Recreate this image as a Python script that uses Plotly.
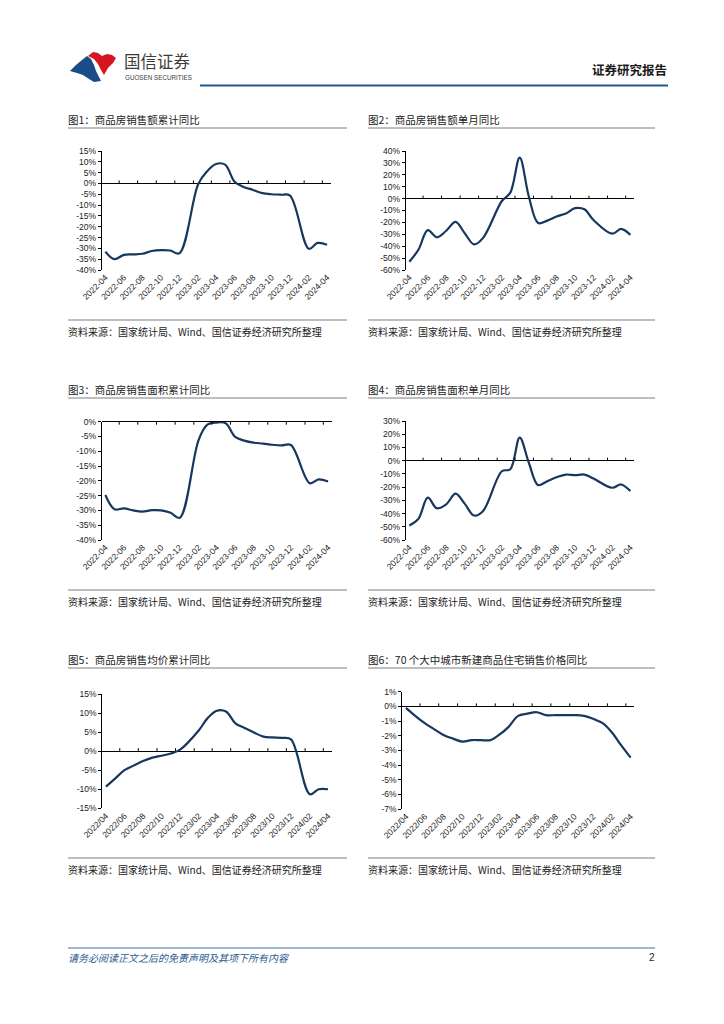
import pandas as pd
import plotly.graph_objects as go

# page is 724x1024; the browser body has an 8px margin, so the figure is 716x1016 placed at (8, 8)
PAGE_OFF = 8
W, H = 724 - PAGE_OFF, 1024 - PAGE_OFF

# ---------------- data ----------------
# NBS series (no separate January figure)
months_nbs = ["2022-04", "2022-05", "2022-06", "2022-07", "2022-08", "2022-09", "2022-10",
              "2022-11", "2022-12", "2023-02", "2023-03", "2023-04", "2023-05", "2023-06",
              "2023-07", "2023-08", "2023-09", "2023-10", "2023-11", "2023-12", "2024-02",
              "2024-03", "2024-04"]
# 70-city price index (monthly incl. January)
months_70 = ["2022-04", "2022-05", "2022-06", "2022-07", "2022-08", "2022-09", "2022-10",
             "2022-11", "2022-12", "2023-01", "2023-02", "2023-03", "2023-04", "2023-05",
             "2023-06", "2023-07", "2023-08", "2023-09", "2023-10", "2023-11", "2023-12",
             "2024-01", "2024-02", "2024-03", "2024-04"]
label_months = ["2022-04", "2022-06", "2022-08", "2022-10", "2022-12", "2023-02", "2023-04",
                "2023-06", "2023-08", "2023-10", "2023-12", "2024-02", "2024-04"]

sales_amount_cum = [-31.5, -35.0, -33.0, -32.8, -32.5, -31.2, -30.8, -31.0, -32.3, -0.4, 5.4, 9.0,
                    8.7, 0.8, -1.6, -3.0, -4.5, -5.0, -5.2, -5.6, -30.2, -27.5, -28.3]
sales_amount_mon = [-53.0, -43.0, -26.5, -32.5, -27.0, -19.5, -29.0, -38.5, -33.0, -2.0, 5.0, 34.5,
                    2.0, -20.5, -18.5, -15.0, -12.5, -8.0, -9.0, -18.0, -29.5, -25.5, -30.5]
sales_area_cum = [-24.8, -29.6, -29.3, -30.0, -30.4, -29.9, -30.0, -30.8, -32.5, -6.2, -1.1, -0.3,
                  -0.5, -5.1, -6.4, -7.1, -7.4, -7.8, -8.0, -7.9, -20.8, -19.5, -20.2]
sales_area_mon = [-49.0, -44.0, -28.0, -36.0, -33.0, -25.0, -32.5, -41.5, -38.0, -8.0, -6.5, 17.5,
                  -1.5, -18.5, -15.5, -12.5, -10.5, -11.0, -10.5, -13.5, -20.5, -18.0, -23.0]
avg_price_cum = [-9.3, -7.2, -5.0, -3.8, -2.6, -1.7, -1.2, -0.6, 0.4, 5.5, 8.6, 10.6, 10.4, 7.3,
                 6.1, 4.9, 3.8, 3.6, 3.5, 3.1, -11.3, -10.0, -10.0]
price70_yoy = [-0.1, -0.65, -1.15, -1.55, -1.95, -2.2, -2.4, -2.3, -2.3, -2.3, -1.9, -1.4, -0.65,
               -0.5, -0.4, -0.6, -0.6, -0.6, -0.6, -0.65, -0.85, -1.15, -1.8, -2.65, -3.5]

titles = ["图1：商品房销售额累计同比", "图2：商品房销售额单月同比", "图3：商品房销售面积累计同比",
          "图4：商品房销售面积单月同比", "图5：商品房销售均价累计同比",
          "图6：70 个大中城市新建商品住宅销售价格同比"]
source_text = "资料来源：国家统计局、Wind、国信证券经济研究所整理"

# ---------------- style ----------------
CJK = "Noto Sans CJK SC"
NUM = "Liberation Sans"
LINE = "#17375e"


def fx(p):
    return (p - PAGE_OFF) / W


def fy(p):
    return 1 - (p - PAGE_OFF) / H


fig = go.Figure()

panels = [
    dict(x=months_nbs, y=sales_amount_cum, dx=(101.7, 330.7), dy=(151, 270), yr=(-40, 15), st=5, fmt="-"),
    dict(x=months_nbs, y=sales_amount_mon, dx=(405.7, 634.0), dy=(151, 270), yr=(-60, 40), st=10, fmt="-"),
    dict(x=months_nbs, y=sales_area_cum, dx=(101.7, 331.7), dy=(421.7, 540), yr=(-40, 0), st=5, fmt="-"),
    dict(x=months_nbs, y=sales_area_mon, dx=(405.7, 634.0), dy=(421, 540), yr=(-60, 30), st=10, fmt="-"),
    dict(x=months_nbs, y=avg_price_cum, dx=(102.3, 331.7), dy=(694, 808.3), yr=(-15, 15), st=5, fmt="/"),
    dict(x=months_70, y=price70_yoy, dx=(402.3, 634.3), dy=(691.7, 809), yr=(-7, 1), st=1, fmt="/"),
]

full_months = pd.date_range("2022-04-01", "2024-04-01", freq="MS")
tick_marks = [full_months[2 * k + 1] + (full_months[2 * k + 2] - full_months[2 * k + 1]) / 2 for k in range(12)]
x_start = pd.Timestamp("2022-04-01") - pd.Timedelta(days=12)
x_end = pd.Timestamp("2024-04-01") + pd.Timedelta(days=12)

layout_axes = {}
for i, p in enumerate(panels):
    n = "" if i == 0 else str(i + 1)
    fig.add_trace(go.Scatter(
        x=pd.to_datetime(p["x"]), y=p["y"], mode="lines",
        line=dict(color=LINE, width=2.2, shape="spline", smoothing=1.0),
        xaxis="x" + n, yaxis="y" + n, showlegend=False, hoverinfo="skip"))
    lo, hi = p["yr"]
    yt = list(range(lo, hi + 1, p["st"]))
    labels = [pd.Timestamp(m + "-01").strftime("%Y" + p["fmt"] + "%m") for m in label_months]
    layout_axes["xaxis" + n] = dict(
        domain=[fx(p["dx"][0]), fx(p["dx"][1])], anchor="y" + n, type="date",
        range=[x_start, x_end], tickvals=[m + "-01" for m in label_months], ticktext=labels,
        tickangle=-45, showline=False, ticks="", showgrid=False, zeroline=False,
        automargin=False,
        tickfont=dict(size=8.5, family=NUM, color="#222"), fixedrange=True)
    layout_axes["yaxis" + n] = dict(
        domain=[fy(p["dy"][1]), fy(p["dy"][0])], anchor="x" + n, range=[lo, hi],
        tickvals=yt, ticktext=[f"{v}%" for v in yt], showline=True, linecolor="black",
        linewidth=1, ticks="outside", ticklen=3, tickcolor="black", tickwidth=1,
        showgrid=False, zeroline=True, zerolinecolor="black", zerolinewidth=1,
        automargin=False,
        tickfont=dict(size=8.5, family=NUM, color="#222"), fixedrange=True)
    direction = -3 if hi == 0 else 3
    for t in tick_marks:
        fig.add_shape(type="line", xref="x" + n, yref="y" + n, x0=t, x1=t,
                      ysizemode="pixel", yanchor=0, y0=0, y1=direction,
                      line=dict(color="black", width=1))

fig.update_layout(**layout_axes)


def add_text(x, y, s, size, color="#222", xanchor="left", family=CJK):
    fig.add_annotation(x=fx(x), y=fy(y), xref="paper", yref="paper", text=s, showarrow=False,
                       xanchor=xanchor, yanchor="middle", borderpad=0,
                       font=dict(size=size, color=color, family=family))


def add_hline(x0, x1, y, color, width):
    fig.add_shape(type="line", xref="paper", yref="paper", x0=fx(x0), x1=fx(x1),
                  y0=fy(y), y1=fy(y), line=dict(color=color, width=width))


def add_poly(points, color):
    path = "M " + " L ".join(f"{fx(a):.5f},{fy(b):.5f}" for a, b in points) + " Z"
    fig.add_shape(type="path", xref="paper", yref="paper", path=path,
                  fillcolor=color, line=dict(width=0))


# ---------------- header ----------------
add_poly([(70, 71), (76, 65), (82, 60), (87, 56), (91, 59), (94, 65), (96, 71), (99, 77),
          (101, 81), (94, 82), (89, 79), (83, 75), (77, 73)], "#1a4c86")
add_poly([(88, 56), (93, 52), (98, 53), (102, 56), (107, 54), (112, 55), (116, 58), (113, 63),
          (108, 68), (104, 75), (101, 70), (98, 64), (94, 59)], "#d6161f")
add_text(123, 61, "国信证券", 16.5, "#3c3c3c")
add_text(124, 78, "GUOSEN SECURITIES", 6.3, "#3c3c3c", family=NUM)
add_text(668, 69, "<b>证券研究报告</b>", 12.5, "#1a1a1a", xanchor="right")
add_hline(200, 668, 85.5, "#1f5a8e", 2.2)

# ---------------- panel frames ----------------
rows = [(119, 128, 320, 331), (389, 398, 590, 601), (659, 668, 858, 869)]
cols = [(68, 347), (368, 655)]
k = 0
for (ty, tl, sl, sy) in rows:
    for (c0, c1) in cols:
        add_text(c0 - 1, ty, titles[k], 10.5)
        add_hline(c0, c1, tl, "#7f7f7f", 1)
        add_hline(c0, c1, sl, "#7f7f7f", 1)
        add_text(c0 - 1, sy, source_text, 10)
        k += 1

# ---------------- footer ----------------
add_hline(68, 655, 948, "#3d6fa8", 1)
add_text(67, 957, "<i>请务必阅读正文之后的免责声明及其项下所有内容</i>", 10, "#2b5a8f")
add_text(656, 957, "2", 10, "#222", xanchor="right", family=NUM)

fig.update_layout(template="none", autosize=False,
                  width=W, height=H, margin=dict(l=0, r=0, t=0, b=0, pad=0),
                  paper_bgcolor="white", plot_bgcolor="white", showlegend=False)

fig.write_html("out.html")
